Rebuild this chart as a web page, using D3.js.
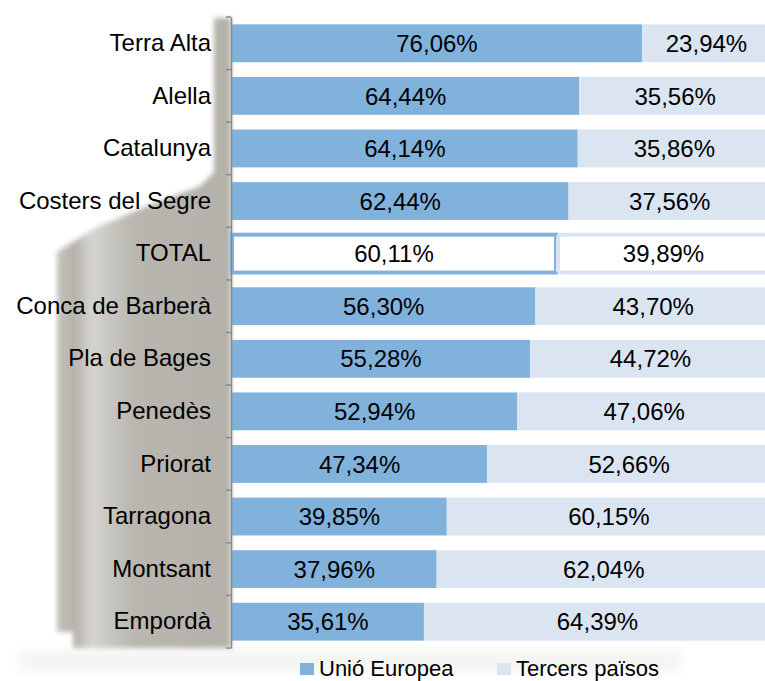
<!DOCTYPE html>
<html>
<head>
<meta charset="utf-8">
<script src="https://cdn.jsdelivr.net/npm/d3@7"></script>
<style>
body{margin:0;background:#fff;}
text{font-family:Arial,"Liberation Sans",sans-serif;fill:#000;}
</style>
</head>
<body>
<div id="root"></div>
<script>
var categories=['Terra Alta','Alella','Catalunya','Costers del Segre','TOTAL','Conca de Barberà','Pla de Bages','Penedès','Priorat','Tarragona','Montsant','Empordà'];
var ue=[76.06,64.44,64.14,62.44,60.11,56.30,55.28,52.94,47.34,39.85,37.96,35.61];
var tercers=[23.94,35.56,35.86,37.56,39.89,43.70,44.72,47.06,52.66,60.15,62.04,64.39];
var seriesNames=['Unió Europea','Tercers països'];
var colors=['#80b2dc','#dbe5f1'];

var W=765,H=681;
var svg=d3.select('#root').append('svg').attr('width',W).attr('height',H);

var data=categories.map(function(c,i){return {cat:c,ue:ue[i],t:tercers[i]}});

var xScale=d3.scaleLinear().domain([0,100]).range([232,771]);
var yScale=d3.scaleBand().domain(categories).range([17,648]).paddingInner(0.28).paddingOuter(0.14);

var fmt=function(v){return v.toFixed(2).replace('.',',')+'%'};

//shadow behind labels
var defs=svg.append('defs');
defs.append('filter').attr('id','blur').append('feGaussianBlur').attr('stdDeviation',2.5);
defs.append('filter').attr('id','blur2').append('feGaussianBlur').attr('stdDeviation',6);
var grad=defs.append('linearGradient').attr('id','shade').attr('x1','0').attr('x2','1').attr('y1','0').attr('y2','0');
[[0,'#c4c2bb'],[0.1,'#b4b2aa'],[0.2,'#d6d5d0'],[0.3,'#c8c6c0'],[0.45,'#b8b6ae'],[1,'#b3b1a9']].forEach(function(s){
  grad.append('stop').attr('offset',s[0]).attr('stop-color',s[1]);
});
svg.append('rect').attr('x',20).attr('y',650).attr('width',660).attr('height',22).attr('fill','#f4f4f2').attr('filter','url(#blur2)');
svg.append('path')
  .attr('d','M214,18 L231,18 L231,648 L73,648 L73,632 L57,632 L57,252 L95,228 L150,205 L200,186 L214,172 Z')
  .attr('fill','url(#shade)').attr('filter','url(#blur)');

//bars
var rows=svg.append('g').selectAll('g').data(data).enter().append('g');

rows.append('rect')
  .attr('x',xScale(0))
  .attr('y',function(d){return yScale(d.cat)})
  .attr('width',function(d){return xScale(d.ue)-xScale(0)})
  .attr('height',yScale.bandwidth())
  .attr('fill',function(d){return d.cat=='TOTAL'?'#fff':colors[0]})
  .attr('stroke',function(d){return d.cat=='TOTAL'?colors[0]:'none'})
  .attr('stroke-width',4);

rows.append('rect')
  .attr('x',function(d){return xScale(d.ue)+(d.cat=='TOTAL'?2:0)})
  .attr('y',function(d){return yScale(d.cat)})
  .attr('width',function(d){return xScale(100)-xScale(d.ue)})
  .attr('height',yScale.bandwidth())
  .attr('rx',function(d){return d.cat=='TOTAL'?3:0})
  .attr('fill',function(d){return d.cat=='TOTAL'?'#fff':colors[1]})
  .attr('stroke',function(d){return d.cat=='TOTAL'?colors[1]:'none'})
  .attr('stroke-width',4);

rows.append('text')
  .attr('x',function(d){return (xScale(0)+xScale(d.ue))/2})
  .attr('y',function(d){return yScale(d.cat)+yScale.bandwidth()/2})
  .attr('dy','0.36em').attr('text-anchor','middle').attr('font-size','24px')
  .text(function(d){return fmt(d.ue)});

rows.append('text')
  .attr('x',function(d){return (xScale(d.ue)+xScale(100))/2})
  .attr('y',function(d){return yScale(d.cat)+yScale.bandwidth()/2})
  .attr('dy','0.36em').attr('text-anchor','middle').attr('font-size','24px')
  .text(function(d){return fmt(d.t)});

//axis
var yAxis=d3.axisLeft(yScale).tickSize(0).tickPadding(20);
var axisG=svg.append('g').attr('transform','translate(231,0)').call(yAxis);
axisG.select('.domain').attr('stroke','#888').attr('stroke-width',1.5);
axisG.selectAll('text').attr('font-size','24px').attr('font-family','Arial,"Liberation Sans",sans-serif').attr('fill','#000');
var bounds=d3.range(categories.length+1).map(function(i){return 17+i*(631/categories.length)});
axisG.selectAll('.bound').data(bounds).enter().append('line')
  .attr('x1',-5).attr('x2',0).attr('y1',function(d){return d}).attr('y2',function(d){return d})
  .attr('stroke','#888').attr('stroke-width',1.5);

//legend
var legX=[300,497];
var leg=svg.append('g').selectAll('g').data(seriesNames).enter().append('g')
  .attr('transform',function(d,i){return 'translate('+legX[i]+',0)'});
leg.append('rect').attr('x',0).attr('y',663).attr('width',14).attr('height',12)
  .attr('fill',function(d,i){return colors[i]});
leg.append('text').attr('x',19).attr('y',676).attr('font-size','22px').text(function(d){return d});
</script>
</body>
</html>
